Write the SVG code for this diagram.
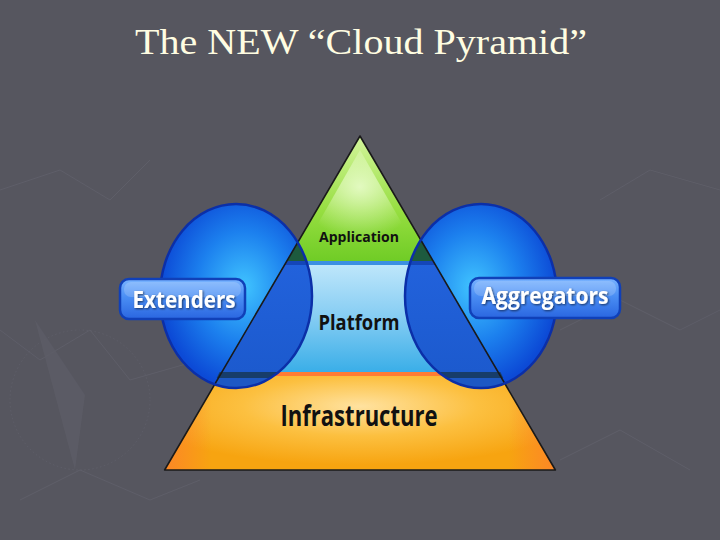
<svg xmlns="http://www.w3.org/2000/svg" width="720" height="540" viewBox="0 0 720 540">
<style>
.lbl{font-family:"Open Sans","Liberation Sans",sans-serif;font-weight:bold;text-anchor:middle;}
.dark{fill:#111;}
.white{fill:#fff;}
.edge{fill:none;stroke:#1a1a1a;stroke-width:1.6;stroke-linejoin:round;}
.ring{fill:none;stroke:#0b2fa8;stroke-width:2.5;}
.pill{stroke:#1040b8;stroke-width:2.5;}
.bgline{fill:none;stroke:#666672;stroke-width:1;opacity:0.5;}
</style>
<defs>
  <linearGradient id="gApp" x1="0" y1="0" x2="0" y2="1">
    <stop offset="0" stop-color="#d4f59c"/>
    <stop offset="0.6" stop-color="#96de40"/>
    <stop offset="1" stop-color="#70cc26"/>
  </linearGradient>
  <radialGradient id="gAppHi" cx="0.5" cy="0.35" r="0.5">
    <stop offset="0" stop-color="#f0ffd8" stop-opacity="0.8"/>
    <stop offset="1" stop-color="#f0ffd8" stop-opacity="0"/>
  </radialGradient>
  <linearGradient id="gPlat" x1="0" y1="0" x2="0" y2="1">
    <stop offset="0" stop-color="#c2e8fb"/>
    <stop offset="0.5" stop-color="#86cdf3"/>
    <stop offset="1" stop-color="#3aaee8"/>
  </linearGradient>
  <radialGradient id="gInfra" cx="0.5" cy="0.35" r="0.6">
    <stop offset="0" stop-color="#ffe2a0"/>
    <stop offset="0.5" stop-color="#fcc040"/>
    <stop offset="1" stop-color="#f7a410"/>
  </radialGradient>
  <linearGradient id="gInfraEdge" x1="0" y1="0" x2="1" y2="0">
    <stop offset="0" stop-color="#ff7a30" stop-opacity="0.7"/>
    <stop offset="0.12" stop-color="#ff7a30" stop-opacity="0"/>
    <stop offset="0.88" stop-color="#ff7a30" stop-opacity="0"/>
    <stop offset="1" stop-color="#ff7a30" stop-opacity="0.7"/>
  </linearGradient>
  <radialGradient id="gBallL" cx="0.55" cy="0.45" r="0.55">
    <stop offset="0" stop-color="#40c4ff"/>
    <stop offset="0.55" stop-color="#1c80ee"/>
    <stop offset="1" stop-color="#0c4ad6"/>
  </radialGradient>
  <radialGradient id="gBallR" cx="0.45" cy="0.45" r="0.55">
    <stop offset="0" stop-color="#40c4ff"/>
    <stop offset="0.55" stop-color="#1c80ee"/>
    <stop offset="1" stop-color="#0c4ad6"/>
  </radialGradient>
  <linearGradient id="gOver" x1="0" y1="0" x2="0" y2="1">
    <stop offset="0" stop-color="#2262dc"/>
    <stop offset="1" stop-color="#1c5ace"/>
  </linearGradient>
  <linearGradient id="gPill" x1="0" y1="0" x2="0" y2="1">
    <stop offset="0" stop-color="#7ab4ff"/>
    <stop offset="0.45" stop-color="#4a8ef4"/>
    <stop offset="1" stop-color="#2a66e0"/>
  </linearGradient>
  <clipPath id="cBalls">
    <ellipse cx="236" cy="296" rx="76" ry="92"/>
    <ellipse cx="481" cy="296" rx="76" ry="92"/>
  </clipPath>
  <filter id="sh" x="-10%" y="-20%" width="120%" height="140%">
    <feDropShadow dx="1" dy="1" stdDeviation="1" flood-color="#000" flood-opacity="0.6"/>
  </filter>
</defs>

<rect x="0" y="0" width="720" height="540" fill="#56565f"/>
<g id="background-texture">
  <circle cx="80" cy="400" r="70" class="bgline" stroke-dasharray="1.5 2.5" stroke-width="6"/>
  <path class="bgline" d="M0,190 L60,170 L110,200 L150,160 M0,330 L40,360 L90,330 L130,380 L200,360 M20,500 L80,470 L150,500 L200,480 M600,200 L650,170 L720,190 M560,330 L620,300 L680,330 L720,310 M560,460 L620,430 L690,470"/>
  <path d="M35,320 L85,395 L75,470 L55,395 Z" fill="#5c5c67" opacity="0.8"/>
</g>

<text x="361" y="54" font-family="'Liberation Serif','Times New Roman',serif" font-size="36" fill="#fffde2" text-anchor="middle" textLength="452" lengthAdjust="spacingAndGlyphs">The NEW “Cloud Pyramid”</text>

<g id="connectors"></g>

<g id="pyramid">
  <g id="application">
    <path d="M360,136 L433.1,261 L286.9,261 Z" fill="url(#gApp)"/>
    <path d="M360,150 L420,255 L300,255 Z" fill="url(#gAppHi)"/>
  </g>
  <g id="platform">
    <path d="M286.9,261 L433.1,261 L498.1,372 L221.9,372 Z" fill="url(#gPlat)"/>
    <path d="M286.9,261 L433.1,261 L435.4,265 L284.6,265 Z" fill="#3c8fe2"/>
  </g>
  <g id="infrastructure">
    <path d="M221.9,372 L498.1,372 L555.4,470 L164.6,470 Z" fill="url(#gInfra)"/>
    <path d="M221.9,372 L498.1,372 L555.4,470 L164.6,470 Z" fill="url(#gInfraEdge)"/>
    <path d="M221.9,372 L498.1,372 L500.4,376 L219.6,376 Z" fill="#ff7c34"/>
  </g>
</g>

<g id="extenders-circle">
  <ellipse cx="236" cy="296" rx="76" ry="92" fill="url(#gBallL)"/>
</g>
<g id="aggregators-circle">
  <ellipse cx="481" cy="296" rx="76" ry="92" fill="url(#gBallR)"/>
</g>

<g id="overlaps" clip-path="url(#cBalls)">
  <path d="M360,136 L433.1,261 L286.9,261 Z" fill="#1d5a3e"/>
  <path d="M286.9,261 L433.1,261 L498.1,372 L221.9,372 Z" fill="url(#gOver)"/>
  <path d="M286.9,261 L433.1,261 L435.4,265 L284.6,265 Z" fill="#1446b8"/>
  <path d="M221.9,372 L498.1,372 L555.4,470 L164.6,470 Z" fill="#1d58c4"/>
  <path d="M219.6,372 L500.4,372 L503.3,378 L216.7,378 Z" fill="#173d6a"/>
</g>

<g id="outlines">
  <path class="edge" d="M360,136 L555.4,470 L164.6,470 Z"/>
  <ellipse class="ring" cx="236" cy="296" rx="76" ry="92"/>
  <ellipse class="ring" cx="481" cy="296" rx="76" ry="92"/>
</g>

<g id="layer-labels">
  <text class="lbl dark" x="359" y="242" font-size="15" textLength="80" lengthAdjust="spacingAndGlyphs">Application</text>
  <text class="lbl dark" x="359" y="330" font-size="21" textLength="81" lengthAdjust="spacingAndGlyphs">Platform</text>
  <text class="lbl dark" x="359" y="426" font-size="28" textLength="157" lengthAdjust="spacingAndGlyphs">Infrastructure</text>
</g>

<g id="extenders">
  <rect class="pill" x="120" y="279" width="125" height="40" rx="9" fill="url(#gPill)"/>
  <rect x="124" y="282" width="117" height="15" rx="7" fill="#ffffff" opacity="0.18"/>
  <text class="lbl white" x="184" y="308" font-size="24" textLength="103" lengthAdjust="spacingAndGlyphs" filter="url(#sh)">Extenders</text>
</g>
<g id="aggregators">
  <rect class="pill" x="470" y="278" width="150" height="40" rx="9" fill="url(#gPill)"/>
  <rect x="474" y="281" width="142" height="15" rx="7" fill="#ffffff" opacity="0.18"/>
  <text class="lbl white" x="545" y="304" font-size="24" textLength="127" lengthAdjust="spacingAndGlyphs" filter="url(#sh)">Aggregators</text>
</g>
</svg>
